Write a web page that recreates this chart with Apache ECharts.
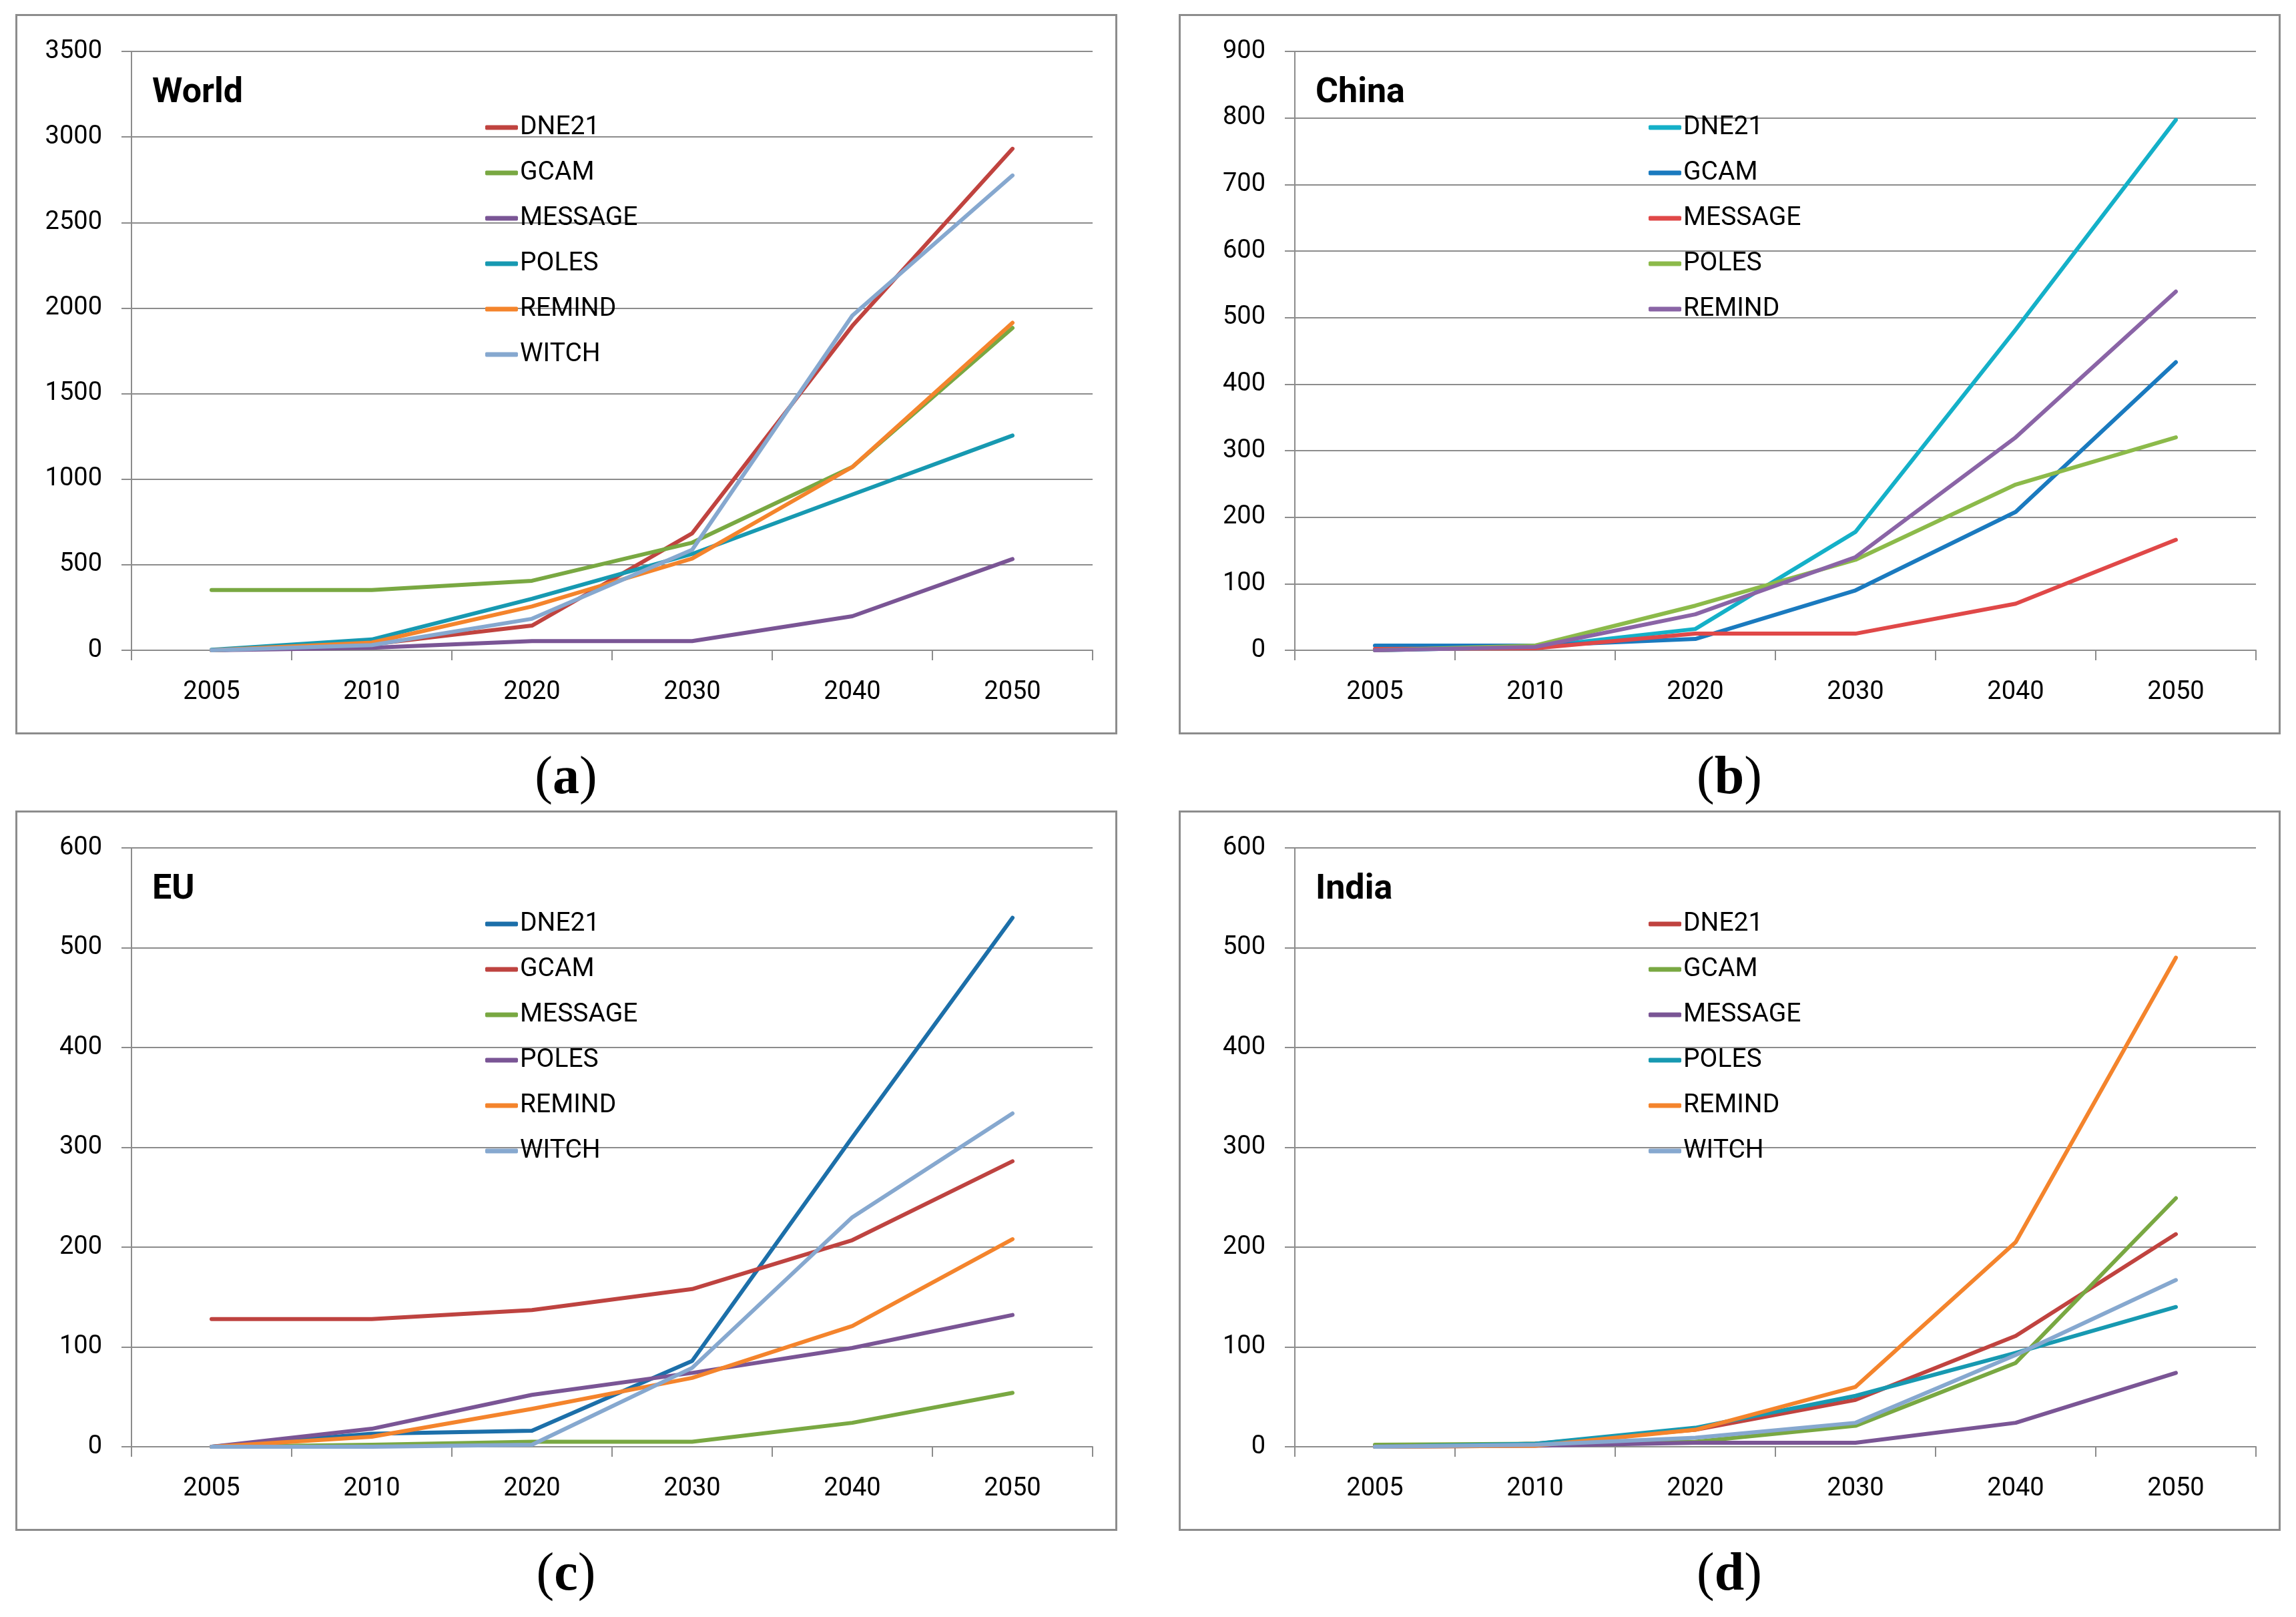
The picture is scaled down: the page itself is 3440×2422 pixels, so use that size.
<!DOCTYPE html>
<html>
<head>
<meta charset="utf-8">
<script src="https://cdn.jsdelivr.net/npm/echarts@6/dist/echarts.min.js"></script>
<style>
html,body{margin:0;padding:0;background:#fff;}
#wrap{position:relative;width:3440px;height:2422px;background:#fff;}
.pane{position:absolute;width:1720px;height:1211px;}
</style>
</head>
<body>
<div id="wrap">
  <div class="pane" id="pa" style="left:0;top:0"></div>
  <div class="pane" id="pb" style="left:1720px;top:0"></div>
  <div class="pane" id="pc" style="left:0;top:1193px"></div>
  <div class="pane" id="pd" style="left:1720px;top:1193px"></div>
</div>
<script>
// ---------- data ----------
const years = ['2005', '2010', '2020', '2030', '2040', '2050'];

const worldModels = ['DNE21', 'GCAM', 'MESSAGE', 'POLES', 'REMIND', 'WITCH'];
const worldDNE21   = [0, 35, 144, 683, 1896, 2931];
const worldGCAM    = [352, 352, 406, 629, 1071, 1884];
const worldMESSAGE = [0, 15, 54, 54, 199, 533];
const worldPOLES   = [3, 63, 301, 563, 910, 1255];
const worldREMIND  = [0, 45, 256, 536, 1071, 1914];
const worldWITCH   = [0, 30, 184, 587, 1956, 2775];
const worldTicks   = {max: 3500, interval: 500};

const chinaModels = ['DNE21', 'GCAM', 'MESSAGE', 'POLES', 'REMIND'];
const chinaDNE21   = [0, 5, 32, 178, 482, 797];
const chinaGCAM    = [7, 7, 17, 90, 208, 433];
const chinaMESSAGE = [2, 3, 25, 25, 70, 166];
const chinaPOLES   = [0, 7, 67, 136, 249, 320];
const chinaREMIND  = [0, 5, 54, 140, 320, 539];
const chinaTicks   = {max: 900, interval: 100};

const euModels = ['DNE21', 'GCAM', 'MESSAGE', 'POLES', 'REMIND', 'WITCH'];
const euDNE21   = [0, 13, 16, 86, 310, 530];
const euGCAM    = [128, 128, 137, 158, 207, 286];
const euMESSAGE = [0, 2, 5, 5, 24, 54];
const euPOLES   = [0, 18, 52, 74, 99, 132];
const euREMIND  = [0, 10, 38, 69, 121, 208];
const euWITCH   = [0, 0, 2, 79, 230, 334];
const euTicks   = {max: 600, interval: 100};

const indiaModels = ['DNE21', 'GCAM', 'MESSAGE', 'POLES', 'REMIND', 'WITCH'];
const indiaDNE21   = [0, 3, 17, 47, 111, 213];
const indiaGCAM    = [2, 3, 5, 21, 84, 249];
const indiaMESSAGE = [0, 1, 4, 4, 24, 74];
const indiaPOLES   = [0, 3, 19, 51, 94, 140];
const indiaREMIND  = [0, 1, 17, 60, 205, 490];
const indiaWITCH   = [0, 2, 9, 24, 92, 167];
const indiaTicks   = {max: 600, interval: 100};

// ---------- styles ----------
const palWorld = ['#c0433f', '#79a842', '#7a5595', '#1799b1', '#f4842c', '#86a8cf'];
const palChina = ['#14b0c8', '#1a7abf', '#e04848', '#8cba4a', '#8a64a6'];
const palEU    = ['#1c6fa9', '#be4340', '#79a842', '#7a5595', '#f4842c', '#86a8cf'];
const GRAY = '#8c8c8c';
const FONT = 'Roboto';

function build(title, letter, models, seriesData, pal, ticks, frameX) {
  const gridLeft = frameX + 174;
  const series = models.map((m, i) => ({
    name: m, type: 'line', data: seriesData[i], symbol: 'none',
    lineStyle: {width: 6, color: pal[i], cap: 'round', join: 'round'},
    itemStyle: {color: pal[i]}, animation: false
  }));
  return {
    animation: false,
    backgroundColor: 'transparent',
    grid: {left: gridLeft, top: 77, width: 1440, height: 897, containLabel: false},
    xAxis: {
      type: 'category', data: years, boundaryGap: true,
      axisLine: {show: true, lineStyle: {color: GRAY, width: 2}},
      axisTick: {show: true, length: 15, interval: 0, lineStyle: {color: GRAY, width: 2}},
      axisLabel: {margin: 44, color: '#000', fontSize: 38, fontFamily: FONT, interval: 0},
      splitLine: {show: false}
    },
    yAxis: {
      type: 'value', min: 0, max: ticks.max, interval: ticks.interval,
      axisLine: {show: true, lineStyle: {color: GRAY, width: 2}},
      axisTick: {show: true, length: 15, lineStyle: {color: GRAY, width: 2}},
      axisLabel: {margin: 44, color: '#000', fontSize: 38, fontFamily: FONT,
                  formatter: v => String(v)},
      splitLine: {show: true, lineStyle: {color: GRAY, width: 2}}
    },
    legend: {
      orient: 'vertical', left: frameX + 704, top: 171, padding: 0,
      itemWidth: 49, itemHeight: 7, itemGap: 28, icon: 'roundRect',
      data: models,
      textStyle: {fontSize: 39, fontFamily: FONT, color: '#000', lineHeight: 40, padding: [0, 0, 0, -2]},
      selectedMode: false
    },
    graphic: [
      {type: 'rect', silent: true,
       shape: {x: frameX + 1.5, y: 22.5, width: 1648, height: 1076},
       style: {fill: 'none', stroke: GRAY, lineWidth: 3}},
      {type: 'text', silent: true, x: frameX + 205, y: 140,
       style: {text: title, font: 'bold 52px Roboto', fill: '#000', verticalAlign: 'middle', align: 'left'}},
      {type: 'text', silent: true, x: frameX + 825, y: 1167,
       style: {
         text: '{p|(}{l|' + letter + '}{p|)}',
         align: 'center', verticalAlign: 'middle',
         rich: {
           p: {font: '80px "Liberation Serif"', fill: '#000'},
           l: {font: 'bold 80px "Liberation Serif"', fill: '#000'}
         }
       }}
    ],
    series: series
  };
}

const panels = [
  ['pa', 'World', 'a', worldModels, [worldDNE21, worldGCAM, worldMESSAGE, worldPOLES, worldREMIND, worldWITCH], palWorld, worldTicks, 23],
  ['pb', 'China', 'b', chinaModels, [chinaDNE21, chinaGCAM, chinaMESSAGE, chinaPOLES, chinaREMIND], palChina, chinaTicks, 46],
  ['pc', 'EU', 'c', euModels, [euDNE21, euGCAM, euMESSAGE, euPOLES, euREMIND, euWITCH], palEU, euTicks, 23],
  ['pd', 'India', 'd', indiaModels, [indiaDNE21, indiaGCAM, indiaMESSAGE, indiaPOLES, indiaREMIND, indiaWITCH], palWorld, indiaTicks, 46]
];

panels.forEach(p => {
  const chart = echarts.init(document.getElementById(p[0]), null, {renderer: 'canvas'});
  chart.setOption(build(p[1], p[2], p[3], p[4], p[5], p[6], p[7]));
});
</script>
</body>
</html>
